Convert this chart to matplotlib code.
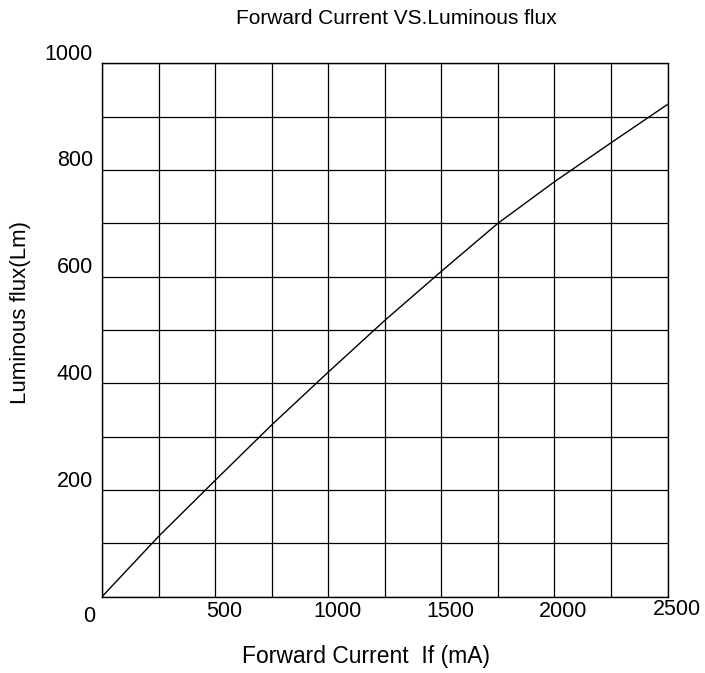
import matplotlib
matplotlib.use("Agg")
import matplotlib.pyplot as plt
import numpy as np
from matplotlib.transforms import offset_copy

plt.rcParams['font.family'] = ['Liberation Sans', 'DejaVu Sans']

# Data
current_ma = [0, 250, 500, 750, 1000, 1250, 1500, 1750, 2000, 2250, 2500]
flux_lm = [0, 113, 218, 322, 421, 518, 610, 700, 778, 851, 923]

x_tick_values = [500, 1000, 1500, 2000, 2500]
x_tick_labels = ["500", "1000", "1500", "2000", "2500"]
y_tick_values = [200, 400, 600, 800, 1000]
y_tick_labels = ["200", "400", "600", "800", "1000"]

title = "Forward Current VS.Luminous flux"
xlabel = "Forward Current  If (mA)"
ylabel = "Luminous flux(Lm)"

fig = plt.figure(figsize=(7.05, 6.73), dpi=100)
ax = fig.add_axes([0.1447, 0.1134, 0.9469 - 0.1447, 0.9059 - 0.1134])

ax.set_xlim(0, 2500)
ax.set_ylim(0, 1000)
ax.set_xticks(np.arange(0, 2501, 250))
ax.set_yticks(np.arange(0, 1001, 100))
ax.grid(True, color='black', linewidth=0.9)
ax.tick_params(length=0, labelbottom=False, labelleft=False)
for s in ax.spines.values():
    s.set_color('black')
    s.set_linewidth(1.0)

ax.plot(current_ma, flux_lm, color='black', linewidth=1.0)

fs_tick = 15.5
# y tick labels: right-aligned left of the axis, sitting above the gridline
for v, lab in zip(y_tick_values, y_tick_labels):
    tr = offset_copy(ax.transData, fig=fig, x=-9, y=9, units='dots')
    ax.text(0, v, lab, transform=tr, ha='right', va='center', fontsize=fs_tick, clip_on=False)

# x tick labels
for v, lab in zip(x_tick_values, x_tick_labels):
    dy = -13 if v == 2500 else -15
    tr = offset_copy(ax.transData, fig=fig, x=9, y=dy, units='dots')
    ax.text(v, 0, lab, transform=tr, ha='center', va='center', fontsize=fs_tick, clip_on=False)

# origin label
tr0 = offset_copy(ax.transData, fig=fig, x=-13, y=-20, units='dots')
ax.text(0, 0, "0", transform=tr0, ha='center', va='center', fontsize=fs_tick, clip_on=False)

fig.text(396.5 / 705, 1 - 19 / 673, title, ha='center', va='center', fontsize=15)
fig.text(366.5 / 705, 1 - 657 / 673, xlabel, ha='center', va='center', fontsize=16.5)
fig.text(21 / 705, 1 - 312 / 673, ylabel, ha='center', va='center', rotation=90, fontsize=16)

fig.savefig("out.png", dpi=100)
